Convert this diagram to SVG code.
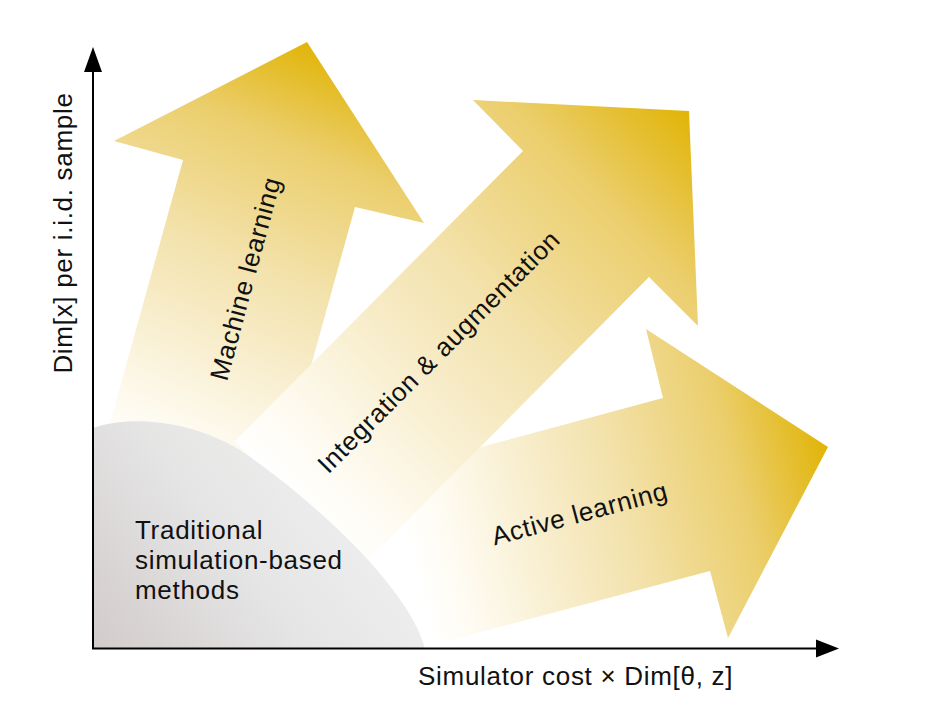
<svg xmlns="http://www.w3.org/2000/svg" width="926" height="722" viewBox="0 0 926 722">
  <style>
    text { font-family: "Liberation Sans", Arial, Helvetica, sans-serif; font-size: 26px; fill: #111; letter-spacing: 0.7px; }
    .axis { stroke: #000; stroke-width: 2; fill: none; }
    .head { fill: #000; }
  </style>
  <defs>
    <linearGradient id="gML" gradientUnits="userSpaceOnUse" x1="150" y1="470" x2="330" y2="50">
      <stop offset="0" stop-color="#FFFFFF"/>
      <stop offset="0.1" stop-color="#FEFBF2"/>
      <stop offset="0.5" stop-color="#F3E2AC"/>
      <stop offset="0.78" stop-color="#EBCE6C"/>
      <stop offset="1" stop-color="#E1B406"/>
    </linearGradient>
    <linearGradient id="gInt" gradientUnits="userSpaceOnUse" x1="290" y1="500" x2="690" y2="110">
      <stop offset="0" stop-color="#FFFFFF"/>
      <stop offset="0.1" stop-color="#FEFBF2"/>
      <stop offset="0.5" stop-color="#F3E2AC"/>
      <stop offset="0.78" stop-color="#EBCE6C"/>
      <stop offset="1" stop-color="#E1B406"/>
    </linearGradient>
    <linearGradient id="gAct" gradientUnits="userSpaceOnUse" x1="410" y1="560" x2="830" y2="450">
      <stop offset="0" stop-color="#FFFFFF"/>
      <stop offset="0.1" stop-color="#FEFBF2"/>
      <stop offset="0.5" stop-color="#F3E2AC"/>
      <stop offset="0.78" stop-color="#EBCE6C"/>
      <stop offset="1" stop-color="#E1B406"/>
    </linearGradient>
    <linearGradient id="gBlob" gradientUnits="userSpaceOnUse" x1="95" y1="645" x2="340" y2="460">
      <stop offset="0" stop-color="#CFC7C7"/>
      <stop offset="0.55" stop-color="#E3E3E3"/>
      <stop offset="1" stop-color="#EEEEEE"/>
    </linearGradient>
  </defs>

  <g id="arrow-machine-learning">
    <polygon points="307,42 424,223 355,207 269,518 97,470 183,160 114,141" fill="url(#gML)"/>
    <text transform="translate(254,281) rotate(-75)" text-anchor="middle">Machine learning</text>
  </g>

  <g id="arrow-active-learning">
    <polygon points="646,329 828,447 728,638 710,571 424,647 377,475 663,398" fill="url(#gAct)"/>
    <text transform="translate(582,522) rotate(-15)" text-anchor="middle">Active learning</text>
  </g>

  <g id="arrow-integration">
    <polygon points="473,100 689,111 698,326 649,277 361,567 235,441 523,151" fill="url(#gInt)"/>
    <text transform="translate(445,358) rotate(-45)" text-anchor="middle">Integration &amp; augmentation</text>
  </g>

  <g id="traditional">
    <path d="M93,428 C130,415 190,420 240,450 C320,505 410,590 425,649 L93,649 Z" fill="url(#gBlob)" fill-opacity="0.92"/>
    <text x="135" y="539">Traditional</text>
    <text x="135" y="569">simulation-based</text>
    <text x="135" y="599">methods</text>
  </g>

  <g id="axes">
    <line class="axis" x1="93" y1="649" x2="93" y2="70"/>
    <polygon class="head" points="93,47 84,72 102,72"/>
    <line class="axis" x1="92" y1="648.5" x2="818" y2="648.5"/>
    <polygon class="head" points="839,648.5 816,639.5 816,657.5"/>
    <text x="418" y="685">Simulator cost × Dim[θ, z]</text>
    <text transform="translate(72,233) rotate(-90)" text-anchor="middle">Dim[x] per i.i.d. sample</text>
  </g>
</svg>
